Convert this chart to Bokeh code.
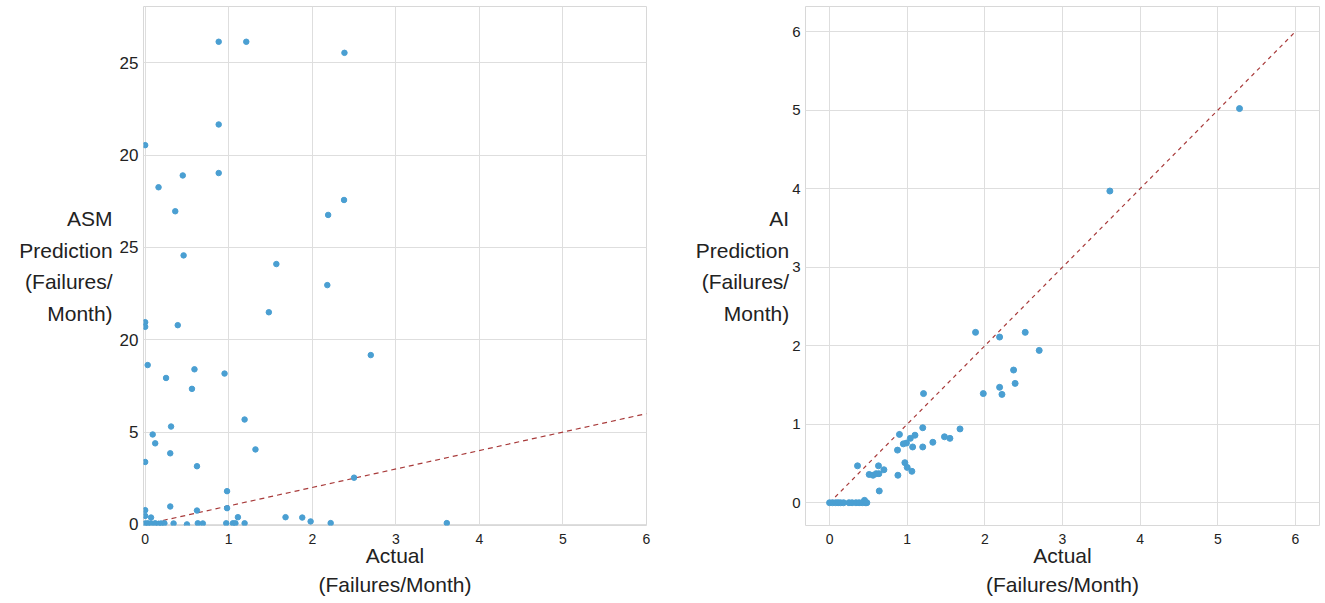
from bokeh.plotting import figure
from bokeh.layouts import row
from bokeh.models import Range1d, FixedTicker
from bokeh.embed import file_html
from bokeh.resources import INLINE

# ---------------- data ----------------
asm_actual = [0.88, 1.21, 2.385, 0.88, 0.0, 0.88, 0.45, 0.16, 2.38, 0.36, 2.19, 0.46,
              1.57, 2.18, 1.48, 0.0, 0.0, 0.39, 0.03, 0.59, 0.25, 0.95, 0.56, 2.70,
              1.19, 0.31, 0.09, 0.12, 1.32, 0.30, 0.0, 0.62, 0.98, 0.30, 0.98, 0.62,
              0.0, 0.0, 0.07, 1.11, 1.68, 1.88, 1.98, 2.22, 2.50, 3.61,
              0.0, 0.03, 0.07, 0.12, 0.16, 0.19, 0.23, 0.34, 0.50, 0.63, 0.69, 0.97,
              1.05, 1.08, 1.19]
asm_pred = [26.14, 26.14, 25.54, 21.66, 20.54, 19.03, 18.9, 18.26, 17.57, 16.96, 16.76, 14.57,
            14.1, 12.96, 11.49, 10.95, 10.7, 10.79, 8.63, 8.40, 7.93, 8.17, 7.34, 9.17,
            5.68, 5.30, 4.87, 4.39, 4.06, 3.85, 3.38, 3.15, 1.80, 0.97, 0.88, 0.75,
            0.77, 0.46, 0.37, 0.39, 0.39, 0.37, 0.16, 0.07, 2.53, 0.07,
            0.05, 0.06, 0.05, 0.06, 0.03, 0.05, 0.06, 0.05, 0.0, 0.06, 0.05, 0.06,
            0.06, 0.06, 0.06]

ai_actual = [5.28, 3.61, 1.88, 2.19, 2.52, 2.70, 2.37, 2.19, 2.39, 1.98, 2.22, 1.21,
             1.20, 1.68, 0.90, 1.10, 1.04, 1.48, 1.55, 0.99, 0.95, 1.33, 1.07, 1.20,
             0.875, 0.36, 0.63, 0.70, 0.97, 1.00, 1.06, 0.51, 0.56, 0.60, 0.635, 0.88,
             0.64, 0.45,
             0.0, 0.04, 0.08, 0.11, 0.14, 0.18, 0.25, 0.29, 0.34, 0.38, 0.42, 0.46, 0.48]
ai_pred = [5.02, 3.97, 2.17, 2.11, 2.17, 1.94, 1.69, 1.47, 1.52, 1.39, 1.38, 1.39,
           0.955, 0.94, 0.87, 0.86, 0.82, 0.84, 0.82, 0.76, 0.75, 0.77, 0.71, 0.71,
           0.67, 0.47, 0.47, 0.42, 0.51, 0.45, 0.40, 0.36, 0.35, 0.37, 0.37, 0.35,
           0.15, 0.03,
           0.0, 0.0, 0.0, 0.0, 0.0, 0.0, 0.0, 0.0, 0.0, 0.0, 0.0, 0.0, 0.0]

ideal_x = [0, 6]
ideal_y = [0, 6]

x_ticks = [0, 1, 2, 3, 4, 5, 6]
asm_y_ticks = [0, 5, 10, 15, 20, 25]
asm_y_labels = {0: "0", 5: "5", 10: "20", 15: "25", 20: "20", 25: "25"}
ai_y_ticks = [0, 1, 2, 3, 4, 5, 6]

asm_title = "ASM\nPrediction\n(Failures/\nMonth)"
ai_title = "AI\nPrediction\n(Failures/\nMonth)"
x_title = "Actual\n(Failures/Month)"

# ---------------- style ----------------
FONT = "Liberation Sans"
TXT = "#222222"
DOT = "#4a9fd2"
LINE = "#a83a3a"
GRID = "#dedede"


def style(p, xfs, yfs, ytitle, ystand):
    for ax in (p.xaxis, p.yaxis):
        ax.axis_line_color = None
        ax.major_tick_line_color = None
        ax.minor_tick_line_color = None
        ax.major_tick_out = 0
        ax.major_tick_in = 0
        ax.minor_tick_out = 0
        ax.minor_tick_in = 0
        ax.major_label_text_font = FONT
        ax.major_label_text_color = TXT
        ax.axis_label_text_font = FONT
        ax.axis_label_text_font_size = "21px"
        ax.axis_label_text_font_style = "normal"
        ax.axis_label_text_color = TXT
    p.xaxis.axis_label_text_line_height = 1.3
    p.yaxis.axis_label_text_line_height = 1.37
    p.xaxis.major_label_text_font_size = xfs
    p.yaxis.major_label_text_font_size = yfs
    p.xaxis.major_label_standoff = 8
    p.yaxis.major_label_standoff = 5
    p.xaxis.axis_label = x_title
    p.xaxis.axis_label_standoff = -3
    p.yaxis.axis_label = ytitle
    p.yaxis.axis_label_orientation = "horizontal"
    p.yaxis.axis_label_text_align = "center"
    p.yaxis.axis_label_standoff = ystand
    p.xgrid.grid_line_color = GRID
    p.ygrid.grid_line_color = GRID
    p.outline_line_color = "#d8d8d8"
    p.background_fill_color = "white"
    p.border_fill_color = "white"


# ---------------- left: ASM ----------------
p1 = figure(width=680, height=603, output_backend="svg", toolbar_location=None,
            x_range=Range1d(-0.02, 6.0), y_range=Range1d(-0.06, 28.05),
            min_border_left=143, min_border_right=34, min_border_top=6, min_border_bottom=76)
style(p1, "14px", "17px", asm_title, 4)
p1.xaxis.ticker = FixedTicker(ticks=x_ticks)
p1.yaxis.ticker = FixedTicker(ticks=asm_y_ticks)
p1.yaxis.major_label_overrides = asm_y_labels
p1.line(ideal_x, ideal_y, line_color=LINE, line_dash="5 4", line_width=1.2)
p1.scatter(asm_actual, asm_pred, size=5.5, fill_color=DOT, line_color=DOT)

# ---------------- right: AI ----------------
p2 = figure(width=645, height=603, output_backend="svg", toolbar_location=None,
            x_range=Range1d(-0.31, 6.31), y_range=Range1d(-0.29, 6.32),
            min_border_left=125, min_border_right=6, min_border_top=6, min_border_bottom=78)
style(p2, "14px", "15px", ai_title, 0)
p2.xaxis.ticker = FixedTicker(ticks=x_ticks)
p2.yaxis.ticker = FixedTicker(ticks=ai_y_ticks)
p2.line(ideal_x, ideal_y, line_color=LINE, line_dash="4 4", line_width=1.2)
p2.scatter(ai_actual, ai_pred, size=6, fill_color=DOT, line_color=DOT)

layout = row(p1, p2)
open("out.html", "w").write(file_html(layout, INLINE))
